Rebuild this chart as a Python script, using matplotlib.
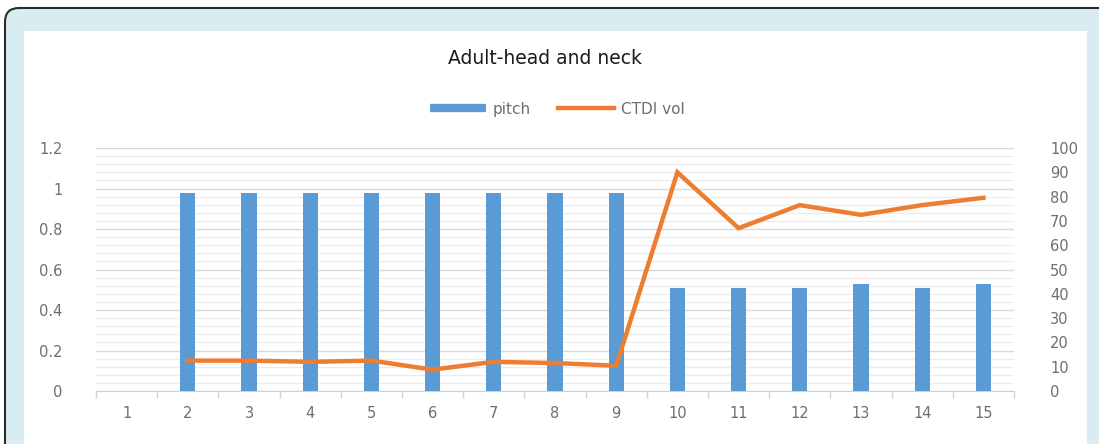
import numpy as np
import matplotlib.pyplot as plt
from matplotlib.patches import FancyBboxPatch, Rectangle
from matplotlib.lines import Line2D

# datos
categories = list(range(1, 16))
pitch = [0, 0.98, 0.98, 0.98, 0.98, 0.98, 0.98, 0.98, 0.98, 0.51, 0.51, 0.51, 0.53, 0.51, 0.53]
ctdi_x = list(range(2, 16))
ctdi_vol = [12.5, 12.5, 12, 12.5, 8.8, 12, 11.5, 10.4, 90, 67, 76.5, 72.5, 76.5, 79.5]
left_ticks = [0, 0.2, 0.4, 0.6, 0.8, 1.0, 1.2]
left_labels = ['0', '0.2', '0.4', '0.6', '0.8', '1', '1.2']
right_ticks = list(range(0, 101, 10))

blue = '#5B9BD5'
orange = '#ED7D31'
txt_gray = '#6e6e6e'

W, H = 1099, 444
fig = plt.figure(figsize=(W / 100, H / 100), dpi=100)

# fondo: marco azul claro con borde oscuro y caja blanca (en pixeles)
bg = fig.add_axes([0, 0, 1, 1])
bg.set_xlim(0, W)
bg.set_ylim(H, 0)
bg.axis('off')
bg.add_patch(FancyBboxPatch((5, 8), W + 100, H + 100,
                            boxstyle='round,pad=0,rounding_size=14',
                            facecolor='#d8ecf1', edgecolor='#2b2b2b',
                            linewidth=1.5, clip_on=False))
bg.add_patch(Rectangle((24, 31), 1087 - 24, H, facecolor='white', edgecolor='none'))

ax = fig.add_axes([96 / W, 1 - 391 / H, (1014 - 96) / W, (391 - 148) / H])
ax.patch.set_alpha(0)

ax.bar(categories, pitch, width=0.25, color=blue, zorder=3)
ax.set_xlim(0.5, 15.5)
ax.set_ylim(0, 1.2)
ax.set_yticks(left_ticks)
ax.set_yticklabels(left_labels)
ax.set_yticks(np.arange(0, 1.2001, 0.04), minor=True)
ax.grid(axis='y', which='major', color='#d9d9d9', linewidth=1.0, zorder=0)
ax.grid(axis='y', which='minor', color='#ebebeb', linewidth=0.8, zorder=0)
ax.set_xticks(categories)
ax.set_xticks(np.arange(0.5, 15.6, 1), minor=True)
ax.tick_params(axis='x', which='major', length=0, pad=11, labelsize=10.5, labelcolor=txt_gray)
ax.tick_params(axis='x', which='minor', length=5, color='#d0d0d0', width=1)
ax.tick_params(axis='y', which='both', length=0, pad=24, labelsize=10.5, labelcolor=txt_gray)
for s in ['top', 'right', 'left']:
    ax.spines[s].set_visible(False)
ax.spines['bottom'].set_color('#d0d0d0')

ax2 = ax.twinx()
ax2.plot(ctdi_x, ctdi_vol, color=orange, linewidth=3.2, solid_joinstyle='miter', zorder=4)
ax2.set_ylim(0, 100)
ax2.set_yticks(right_ticks)
ax2.tick_params(axis='y', length=0, pad=26, labelsize=10.5, labelcolor=txt_gray)
for s in ['top', 'right', 'left', 'bottom']:
    ax2.spines[s].set_visible(False)

fig.text(545 / W, 1 - 58 / H, 'Adult-head and neck', ha='center', va='center',
         fontsize=13.5, color='#1a1a1a')

handles = [Line2D([], [], color=blue, linewidth=6, solid_capstyle='butt'),
           Line2D([], [], color=orange, linewidth=3.2)]
fig.legend(handles, ['pitch', 'CTDI vol'], loc='center', ncol=2,
           bbox_to_anchor=(557 / W, 1 - 109 / H), frameon=False,
           fontsize=11, labelcolor=txt_gray, handlelength=3.7,
           handletextpad=0.4, columnspacing=1.8)

fig.savefig('out.png', dpi=100)
